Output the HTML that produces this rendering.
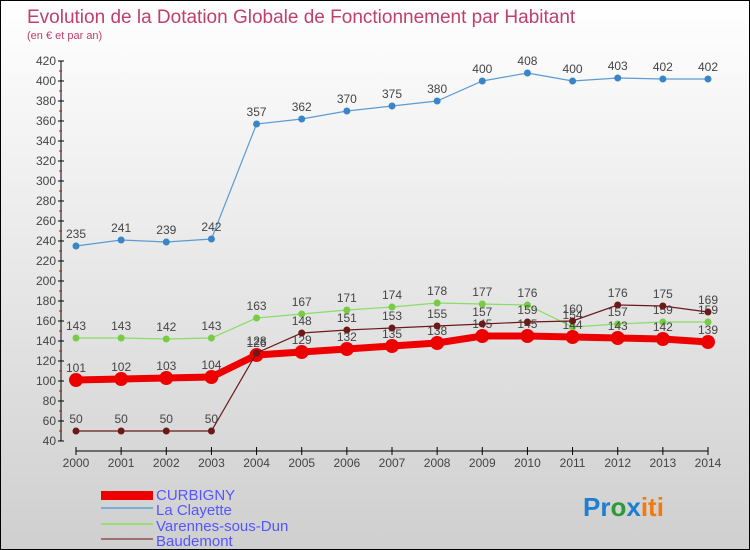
<!DOCTYPE html>
<html><head><meta charset="utf-8"><style>
body{margin:0}
#c{position:relative;width:748px;height:548px;border:1px solid #000;background:linear-gradient(#fff,#ececec 40%,#cfcfcf);font-family:"Liberation Sans",sans-serif;overflow:hidden}
svg text{font-family:"Liberation Sans",sans-serif}
</style></head><body>
<div id="c">
<svg id="s" width="748" height="548">
<text x="26" y="22" font-size="19" fill="#c0406a">Evolution de la Dotation Globale de Fonctionnement par Habitant</text>
<text x="26" y="38" font-size="11" fill="#c0406a">(en € et par an)</text>
<g id="ax"></g><g id="ser"></g>
<g>
<rect x="100" y="490" width="52" height="9" fill="#e00"/>
<text x="155" y="499" font-size="15" fill="#55f">CURBIGNY</text>
<rect x="100" y="506" width="52" height="2" fill="#7aaed8"/>
<text x="155" y="514" font-size="15" fill="#55f">La Clayette</text>
<rect x="100" y="522" width="52" height="2" fill="#99dd77"/>
<text x="155" y="530" font-size="15" fill="#55f">Varennes-sous-Dun</text>
<rect x="100" y="537" width="52" height="2" fill="#a07070"/>
<text x="155" y="545" font-size="15" fill="#55f">Baudemont</text>
</g>
<text x="582" y="515" font-size="26" font-weight="bold"><tspan fill="#1e7fd0">Pr</tspan><tspan fill="#2a9a3a">o</tspan><tspan fill="#1e7fd0">x</tspan><tspan fill="#f07a10">iti</tspan></text>
</svg></div>
<script>
const years=[2000,2001,2002,2003,2004,2005,2006,2007,2008,2009,2010,2011,2012,2013,2014];
const yTicks=[40,60,80,100,120,140,160,180,200,220,240,260,280,300,320,340,360,380,400,420];
const curbigny=[101,102,103,104,126,129,132,135,138,145,145,144,143,142,139];
const laClayette=[235,241,239,242,357,362,370,375,380,400,408,400,403,402,402];
const varennes=[143,143,142,143,163,167,171,174,178,177,176,154,157,159,159];
const baudemont=[50,50,50,50,128,148,151,153,155,157,159,160,176,175,169];
const NS="http://www.w3.org/2000/svg";
const X=i=>75+i*(632/14), Y=v=>440-(v-40)*(380/380);
function mk(t,a,p){const e=document.createElementNS(NS,t);for(const k in a)e.setAttribute(k,a[k]);p.appendChild(e);return e;}
const ax=document.getElementById('ax'),ser=document.getElementById('ser');
let l=mk('line',{x1:60,y1:Y(420),x2:60,y2:Y(40),stroke:'#000'},ax);


l=mk('line',{x1:75,y1:450,x2:707,y2:450,stroke:'#000'},ax);


yTicks.forEach(v=>{mk('line',{x1:57,x2:63,y1:Y(v),y2:Y(v),stroke:'#000'},ax);
 if(v<420)mk('line',{x1:58,x2:61,y1:Y(v+10),y2:Y(v+10),stroke:'#e00'},ax);
 const t=mk('text',{x:55,y:Y(v)+4,'font-size':12,fill:'#444','text-anchor':'end'},ax);t.textContent=v;
 
 });
years.forEach((y,i)=>{mk('line',{x1:X(i),x2:X(i),y1:446,y2:454,stroke:'#000'},ax);
 const t=mk('text',{x:X(i),y:466,'font-size':12,fill:'#444','text-anchor':'middle'},ax);t.textContent=y;
 
 });
function series(d,name,col,w,r,dot,lab){
 const g=mk('g',{},ser);
 
 
 mk('polyline',{points:d.map((v,i)=>X(i)+','+Y(v)).join(' '),fill:'none',stroke:col,'stroke-width':w},g);
 d.forEach((v,i)=>{const c=mk('circle',{cx:X(i),cy:Y(v),r:r,fill:dot},g);
  
  
  const t=mk('text',{x:X(i),y:Y(v)-8,'font-size':12,fill:'#444','text-anchor':'middle'},g);t.textContent=v;
  
  });
}
series(laClayette,'la-clayette','#5b9bd5',1.2,3.5,'#3a85c8');
series(varennes,'varennes','#88dd66',1.2,3.5,'#77cc44');
series(curbigny,'curbigny','#ee0000',7,7,'#ee0000');
series(baudemont,'baudemont','#6b1a1a',1.2,3.5,'#6b1a1a');
</script>
</body></html>
